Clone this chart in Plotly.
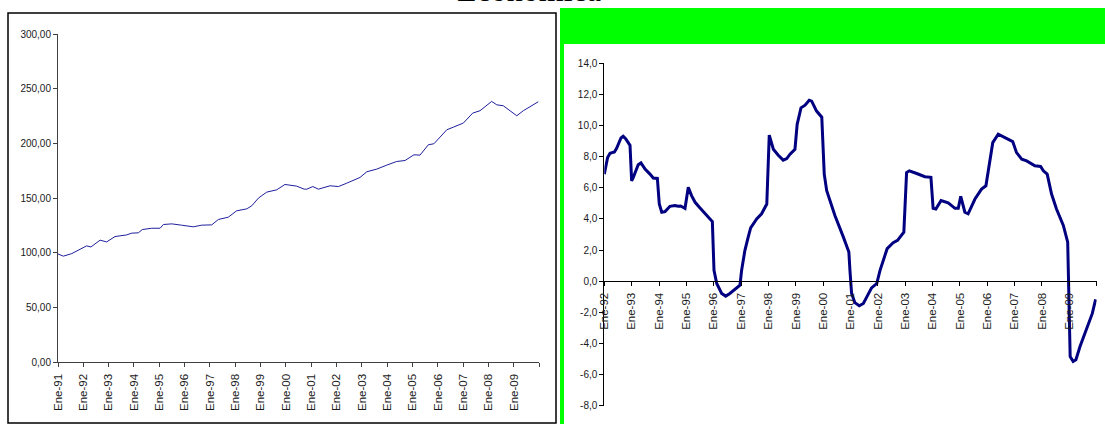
import plotly.graph_objects as go

# ---- Left panel: index level (monthly, 1991-2009) ----
idx_year = [
    1991.00, 1991.21, 1991.54, 1992.13, 1992.30, 1992.66, 1992.92, 1993.25,
    1993.71, 1993.91, 1994.17, 1994.33, 1994.70, 1995.03, 1995.16, 1995.49,
    1995.88, 1996.34, 1996.67, 1997.07, 1997.33, 1997.72, 1998.05, 1998.45,
    1998.65, 1998.91, 1999.24, 1999.63, 1999.96, 2000.16, 2000.29, 2000.42,
    2000.72, 2000.82, 2001.06, 2001.28, 2001.74, 2002.07, 2002.40, 2002.92,
    2003.19, 2003.58, 2003.98, 2004.37, 2004.70, 2005.05, 2005.29, 2005.62,
    2005.84, 2006.35, 2006.61, 2007.00, 2007.37, 2007.66, 2008.12, 2008.32,
    2008.58, 2008.84, 2009.11, 2009.37, 2009.63, 2009.96,
]
idx_value = [
    99.0, 97.0, 99.3, 106.4, 105.4, 111.6, 110.0, 114.9,
    116.4, 118.0, 118.3, 121.3, 122.5, 122.5, 125.9, 126.5,
    125.3, 123.8, 125.3, 125.6, 130.5, 132.6, 138.4, 140.2,
    143.0, 150.0, 155.5, 157.6, 162.5, 161.9, 161.5, 161.0,
    158.2, 158.2, 160.6, 158.2, 161.3, 160.6, 163.7, 168.9,
    174.1, 176.5, 180.2, 183.5, 184.4, 189.6, 189.3, 198.8,
    199.7, 212.5, 214.9, 218.6, 227.7, 229.9, 238.4, 235.3,
    234.4, 229.9, 225.3, 229.9, 233.3, 238.1,
]

# ---- Right panel: year-on-year variation (%) ----
var_year = [
    1992.00, 1992.12, 1992.21, 1992.37, 1992.45, 1992.61, 1992.69, 1992.78,
    1992.94, 1993.00, 1993.06, 1993.24, 1993.34, 1993.49, 1993.67, 1993.79,
    1993.94, 1994.01, 1994.10, 1994.22, 1994.40, 1994.58, 1994.70, 1994.79,
    1994.95, 1995.07, 1995.19, 1995.32, 1995.50, 1995.74, 1995.95, 1996.01,
    1996.11, 1996.29, 1996.44, 1996.59, 1996.84, 1996.96, 1997.02, 1997.14,
    1997.26, 1997.35, 1997.57, 1997.75, 1997.94, 1998.03, 1998.18, 1998.36,
    1998.54, 1998.67, 1998.79, 1998.97, 1999.05, 1999.19, 1999.34, 1999.49,
    1999.58, 1999.76, 1999.95, 2000.04, 2000.13, 2000.25, 2000.43, 2000.74,
    2000.94, 2000.98, 2001.04, 2001.16, 2001.32, 2001.47, 2001.65, 2001.77,
    2001.96, 2002.08, 2002.34, 2002.56, 2002.72, 2002.95, 2003.05, 2003.15,
    2003.42, 2003.72, 2003.94, 2004.02, 2004.12, 2004.31, 2004.57, 2004.82,
    2004.94, 2005.03, 2005.18, 2005.30, 2005.55, 2005.79, 2005.95, 2006.10,
    2006.20, 2006.40, 2006.52, 2006.71, 2006.93, 2007.07, 2007.26, 2007.44,
    2007.74, 2007.95, 2008.05, 2008.19, 2008.35, 2008.53, 2008.78, 2008.94,
    2009.03, 2009.14, 2009.24, 2009.39, 2009.57, 2009.69, 2009.84, 2009.96,
]
var_value = [
    6.88, 7.94, 8.22, 8.30, 8.54, 9.20, 9.31, 9.16,
    8.73, 6.45, 6.67, 7.48, 7.60, 7.20, 6.88, 6.63,
    6.60, 4.96, 4.43, 4.47, 4.81, 4.86, 4.81, 4.83,
    4.68, 6.03, 5.50, 5.07, 4.71, 4.22, 3.83, 0.70,
    -0.15, -0.79, -0.96, -0.79, -0.43, -0.26, 0.70, 1.98,
    2.83, 3.43, 4.00, 4.33, 4.96, 9.39, 8.48, 8.09,
    7.78, 7.88, 8.16, 8.48, 10.08, 11.14, 11.31, 11.63,
    11.57, 10.93, 10.54, 6.88, 5.81, 5.18, 4.22, 2.83,
    1.87, 0.70, -0.79, -1.38, -1.58, -1.43, -0.79, -0.43,
    -0.15, 0.70, 2.09, 2.47, 2.62, 3.15, 6.98, 7.09,
    6.92, 6.71, 6.67, 4.68, 4.64, 5.18, 5.03, 4.68,
    4.68, 5.45, 4.43, 4.33, 5.28, 5.92, 6.13, 7.73,
    8.90, 9.44, 9.33, 9.12, 8.97, 8.26, 7.84, 7.73,
    7.41, 7.37, 7.09, 6.88, 5.60, 4.64, 3.58, 2.51,
    -4.84, -5.16, -5.05, -4.20, -3.34, -2.81, -2.07, -1.17,
]

# ---- Tick labels ----
left_xtick_years = list(range(1991, 2011))
left_xtick_text = ["Ene-91", "Ene-92", "Ene-93", "Ene-94", "Ene-95", "Ene-96",
                   "Ene-97", "Ene-98", "Ene-99", "Ene-00", "Ene-01", "Ene-02",
                   "Ene-03", "Ene-04", "Ene-05", "Ene-06", "Ene-07", "Ene-08",
                   "Ene-09", ""]
left_ytick_vals = [0, 50, 100, 150, 200, 250, 300]
left_ytick_text = ["0,00", "50,00", "100,00", "150,00", "200,00", "250,00", "300,00"]

right_xtick_years = list(range(1992, 2011))
right_xtick_text = ["Ene-92", "Ene-93", "Ene-94", "Ene-95", "Ene-96", "Ene-97",
                    "Ene-98", "Ene-99", "Ene-00", "Ene-01", "Ene-02", "Ene-03",
                    "Ene-04", "Ene-05", "Ene-06", "Ene-07", "Ene-08", "Ene-09", ""]
right_ytick_vals = [-8, -6, -4, -2, 0, 2, 4, 6, 8, 10, 12, 14]
right_ytick_text = ["-8,0", "-6,0", "-4,0", "-2,0", "0,0", "2,0", "4,0", "6,0",
                    "8,0", "10,0", "12,0", "14,0"]

title_text = "Económica"

W, H = 1105, 424


def fx(px):
    return px / W


def fy(py):
    return 1 - py / H


y_tick_font = dict(family="Liberation Sans, Arial, sans-serif", size=10, color="#1a1a1a")
x_tick_font = dict(family="Liberation Sans, Arial, sans-serif", size=11.5, color="#1a1a1a")

fig = go.Figure()

fig.add_trace(go.Scatter(
    x=idx_year, y=idx_value, mode="lines",
    line=dict(color="#1f1f9e", width=1),
    xaxis="x", yaxis="y", showlegend=False, hoverinfo="skip",
))

fig.add_trace(go.Scatter(
    x=var_year, y=var_value, mode="lines",
    line=dict(color="#000080", width=3),
    xaxis="x2", yaxis="y2", showlegend=False, hoverinfo="skip",
))

# fixed pixel layout: no automatic margin growth from tick labels
axis_common = dict(showgrid=False, zeroline=False, showline=True, automargin=False,
                   ticks="outside", ticklen=4)
x_axis_common = dict(**axis_common, tickfont=x_tick_font, tickangle=-90,
                     ticklabelstandoff=2)
y_axis_common = dict(**axis_common, tickfont=y_tick_font)

# right panel: y = 0 sits at this paper fraction, where the x axis crosses
r_y0, r_y1 = fy(405.7), fy(63.3)
r_zero = r_y0 + (r_y1 - r_y0) * (0 - (-8)) / (14 - (-8))

fig.update_layout(
    width=W, height=H, autosize=False,
    margin=dict(l=0, r=0, t=0, b=0, pad=0),
    paper_bgcolor="white", plot_bgcolor="white",
    xaxis=dict(**x_axis_common, domain=[fx(58), fx(539.3)], range=[1991, 2010],
               tickvals=left_xtick_years, ticktext=left_xtick_text,
               linecolor="#404040", tickcolor="#404040", anchor="y"),
    yaxis=dict(**y_axis_common, domain=[fy(362.3), fy(34)], range=[0, 300],
               tickvals=left_ytick_vals, ticktext=left_ytick_text,
               linecolor="#404040", tickcolor="#404040", anchor="x"),
    xaxis2=dict(**x_axis_common, domain=[fx(604.3), fx(1096.7)], range=[1992, 2010],
                tickvals=right_xtick_years, ticktext=right_xtick_text,
                linecolor="black", tickcolor="black", anchor="free", position=r_zero),
    yaxis2=dict(**y_axis_common, domain=[r_y0, r_y1], range=[-8, 14],
                tickvals=right_ytick_vals, ticktext=right_ytick_text,
                linecolor="black", tickcolor="black", anchor="x2"),
    shapes=[
        # frame around the left chart
        dict(type="rect", xref="paper", yref="paper",
             x0=fx(8), x1=fx(556), y0=fy(423), y1=fy(13),
             line=dict(color="black", width=1.5), layer="below"),
        # green header band and side strip of the right chart
        dict(type="rect", xref="paper", yref="paper",
             x0=fx(560), x1=fx(1105), y0=fy(44), y1=fy(8),
             fillcolor="#00ff00", line=dict(width=0), layer="below"),
        dict(type="rect", xref="paper", yref="paper",
             x0=fx(560), x1=fx(564), y0=fy(424), y1=fy(44),
             fillcolor="#00ff00", line=dict(width=0), layer="below"),
    ],
    annotations=[
        dict(text=title_text, xref="paper", yref="paper",
             x=fx(529), y=fy(10), xanchor="center", yanchor="bottom",
             showarrow=False,
             font=dict(family="Liberation Serif, DejaVu Serif, serif", size=32, color="black")),
    ],
)

fig.write_html("out.html")
